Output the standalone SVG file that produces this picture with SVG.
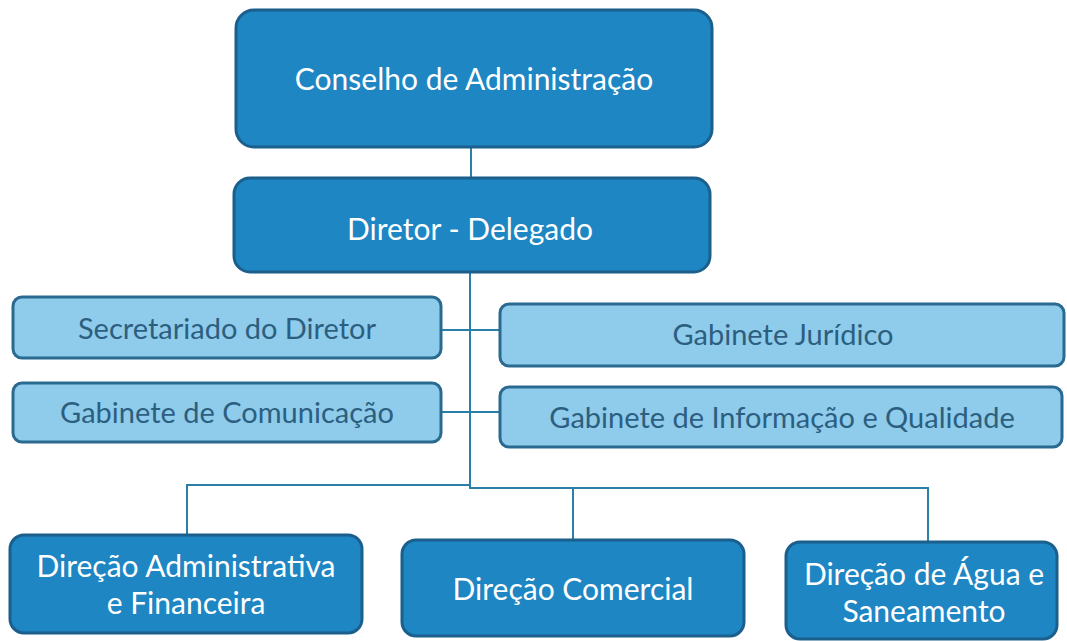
<svg xmlns="http://www.w3.org/2000/svg" width="1067" height="641" viewBox="0 0 1067 641">
<style>
.dark{fill:#1e86c3;stroke:#1b5f8c;stroke-width:3}
.light{fill:#8fcbeb;stroke:#2a6a90;stroke-width:3}
.tw{font-family:Lato,"Open Sans",sans-serif;fill:#ffffff;text-anchor:middle;font-size:30px}
.tb{font-family:Lato,"Open Sans",sans-serif;fill:#2c5f7f;text-anchor:middle;font-size:29px}
.line{stroke:#2a7fa8;stroke-width:2;fill:none}
</style>
<rect width="1067" height="641" fill="#ffffff"/>
<g id="connectors">
<path class="line" d="M471 147 V178"/>
<path class="line" d="M470 272 V488"/>
<path class="line" d="M441 330 H500"/>
<path class="line" d="M441 412 H500"/>
<path class="line" d="M187 535 V485 H470 V488 H928 V542"/>
<path class="line" d="M573 488 V540"/>
</g>
<g id="n1"><rect class="dark" x="236" y="10" width="476" height="137" rx="18"/><text class="tw" x="474" y="90">Conselho de Administração</text></g>
<g id="n2"><rect class="dark" x="234" y="178" width="476" height="94" rx="16"/><text class="tw" x="470" y="240">Diretor - Delegado</text></g>
<g id="n3"><rect class="light" x="13" y="297" width="428" height="61" rx="9"/><text class="tb" x="227" y="339">Secretariado do Diretor</text></g>
<g id="n4"><rect class="light" x="500" y="304" width="564" height="62" rx="9"/><text class="tb" x="783" y="345">Gabinete Jurídico</text></g>
<g id="n5"><rect class="light" x="13" y="383" width="428" height="59" rx="9"/><text class="tb" x="227" y="423">Gabinete de Comunicação</text></g>
<g id="n6"><rect class="light" x="500" y="387" width="562" height="60" rx="9"/><text class="tb" x="782" y="428">Gabinete de Informação e Qualidade</text></g>
<g id="n7"><rect class="dark" x="10" y="535" width="352" height="98" rx="14"/><text class="tw" x="186" y="577">Direção Administrativa</text><text class="tw" x="186" y="614">e Financeira</text></g>
<g id="n8"><rect class="dark" x="402" y="540" width="342" height="96" rx="14"/><text class="tw" x="573" y="600">Direção Comercial</text></g>
<g id="n9"><rect class="dark" x="786" y="542" width="271" height="97" rx="14"/><text class="tw" x="924" y="585">Direção de Água e</text><text class="tw" x="924" y="622">Saneamento</text></g>
</svg>
